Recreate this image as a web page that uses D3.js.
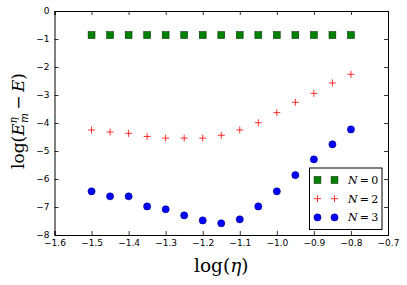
<!DOCTYPE html>
<html>
<head>
<meta charset="utf-8">
<script src="https://cdn.jsdelivr.net/npm/d3@7"></script>
<style>
  body { margin: 0; background: #fff; }
  svg { display: block; }
  .tick text { font-family: "DejaVu Sans", sans-serif; font-size: 9px; fill: #000; }
  .domain { stroke: #000; stroke-width: 1; }
  .tick line { stroke: #000; stroke-width: 0.8; }
</style>
</head>
<body>
<svg id="chart" width="407" height="285"></svg>
<script>
// data
const logEta = [-1.5, -1.45, -1.4, -1.35, -1.3, -1.25, -1.2, -1.15, -1.1, -1.05, -1.0, -0.95, -0.9, -0.85, -0.8];
const n0 = [-0.86, -0.86, -0.86, -0.86, -0.86, -0.86, -0.86, -0.86, -0.86, -0.86, -0.86, -0.86, -0.86, -0.86, -0.86];
const n2 = [-4.25, -4.32, -4.37, -4.48, -4.54, -4.54, -4.54, -4.44, -4.25, -3.99, -3.63, -3.26, -2.94, -2.57, -2.26];
const n3 = [-6.44, -6.62, -6.62, -6.98, -7.08, -7.30, -7.48, -7.58, -7.44, -6.98, -6.44, -5.86, -5.30, -4.76, -4.23];
const xTicks = [-1.6, -1.5, -1.4, -1.3, -1.2, -1.1, -1.0, -0.9, -0.8, -0.7];
const yTicks = [0, -1, -2, -3, -4, -5, -6, -7, -8];
const legendLabels = ["0", "2", "3"];

const MARGIN = { top: 11, right: 19, bottom: 50, left: 54.5 };
const svg = d3.select("#chart");
const W = 407, H = 285;
const width = W - MARGIN.left - MARGIN.right;
const height = H - MARGIN.top - MARGIN.bottom;

const x = d3.scaleLinear().domain([-1.6, -0.7]).range([MARGIN.left, MARGIN.left + width]);
const y = d3.scaleLinear().domain([-8, 0]).range([MARGIN.top + height, MARGIN.top]);

const minus = (s) => s.replace("-", "\u2212");
const fmtX = (d) => minus(d3.format(".1f")(d));
const fmtY = (d) => minus(d3.format("d")(d));

// axes, ticks pointing inward on all four sides
svg.append("g")
  .attr("transform", `translate(0,${MARGIN.top + height})`)
  .call(d3.axisBottom(x).tickValues(xTicks).tickFormat(fmtX).tickSize(-4).tickPadding(5));
svg.append("g")
  .attr("transform", `translate(0,${MARGIN.top})`)
  .call(d3.axisTop(x).tickValues(xTicks).tickFormat("").tickSize(-4));
svg.append("g")
  .attr("transform", `translate(${MARGIN.left},0)`)
  .call(d3.axisLeft(y).tickValues(yTicks).tickFormat(fmtY).tickSize(-4).tickPadding(5));
svg.append("g")
  .attr("transform", `translate(${MARGIN.left + width},0)`)
  .call(d3.axisRight(y).tickValues(yTicks).tickFormat("").tickSize(-4));

svg.selectAll(".domain").attr("fill", "none");

// marker painters
function square(g, cx, cy) {
  g.append("rect").attr("x", cx - 3.4).attr("y", cy - 3.4)
    .attr("width", 6.8).attr("height", 6.8)
    .attr("fill", "#008000").attr("stroke", "#003300").attr("stroke-width", 0.6);
}
function plus(g, cx, cy) {
  g.append("path").attr("d", `M${cx - 3.5},${cy}H${cx + 3.5}M${cx},${cy - 3.5}V${cy + 3.5}`)
    .attr("stroke", "#ff0000").attr("stroke-width", 0.8).attr("fill", "none");
}
function dot(g, cx, cy) {
  g.append("circle").attr("cx", cx).attr("cy", cy).attr("r", 3.6)
    .attr("fill", "#0000ff").attr("stroke", "#000066").attr("stroke-width", 0.5);
}

const series = [
  { values: n0, mark: square },
  { values: n2, mark: plus },
  { values: n3, mark: dot },
];

const plot = svg.append("g");
series.forEach((s) => {
  const g = plot.append("g");
  s.values.forEach((v, i) => s.mark(g, x(logEta[i]), y(v)));
});

// legend
const lg = svg.append("g");
lg.append("rect").attr("x", 309.5).attr("y", 168).attr("width", 72.5).attr("height", 61.5)
  .attr("fill", "#fff").attr("stroke", "#000").attr("stroke-width", 1);
series.forEach((s, i) => {
  const cy = 180 + i * 18.7;
  const g = lg.append("g");
  s.mark(g, 317.5, cy);
  s.mark(g, 334.5, cy);
  const t = lg.append("text").attr("x", 348).attr("y", cy + 4)
    .attr("font-family", "DejaVu Serif, serif").attr("font-size", 11);
  t.append("tspan").attr("font-style", "italic").text("N");
  t.append("tspan").text("\u2009=\u2009" + legendLabels[i]);
});

// axis labels
svg.append("text")
  .attr("x", MARGIN.left + width / 2).attr("y", 271.5)
  .attr("text-anchor", "middle")
  .attr("font-family", "DejaVu Serif, serif").attr("font-size", 18.5)
  .html('log(<tspan font-style="italic">\u03b7</tspan>)');

const yl = svg.append("text")
  .attr("transform", `translate(24,${MARGIN.top + height / 2 - 2}) rotate(-90)`)
  .attr("text-anchor", "middle")
  .attr("font-family", "DejaVu Serif, serif").attr("font-size", 17);
yl.append("tspan").text("log(");
yl.append("tspan").attr("font-style", "italic").text("E");
yl.append("tspan").attr("font-style", "italic").attr("font-size", 10.5).attr("dy", -7).text("\u03b7");
yl.append("tspan").attr("font-style", "italic").attr("font-size", 10.5).attr("dx", -6).attr("dy", 11).text("m");
yl.append("tspan").attr("dy", -4).text("\u2009\u2212\u2009");
yl.append("tspan").attr("font-style", "italic").text("E");
yl.append("tspan").text(")");
</script>
</body>
</html>
